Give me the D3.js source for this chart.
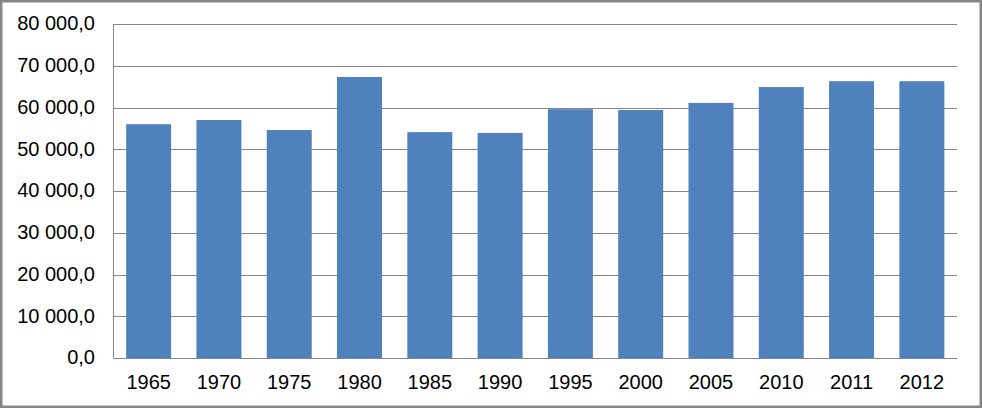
<!DOCTYPE html>
<html><head><meta charset="utf-8">
<script src="https://cdn.jsdelivr.net/npm/d3@7"></script>
<style>html,body{margin:0;padding:0;background:#fff;}svg{display:block;}</style>
</head><body>
<script>
const categories = ["1965","1970","1975","1980","1985","1990","1995","2000","2005","2010","2011","2012"];
const values = [56000, 57000, 54600, 67300, 54100, 53900, 59600, 59400, 61100, 64900, 66300, 66300];
const yTicks = [0,10000,20000,30000,40000,50000,60000,70000,80000];

(function(){
const W = 982, H = 408;
const svg = d3.select("body").append("svg").attr("width", W).attr("height", H);
svg.append("rect").attr("x",1.25).attr("y",1.25).attr("width",W-2.5).attr("height",H-2.5)
  .attr("fill","#fff").attr("stroke","#868686").attr("stroke-width",2.5);

const pL = 113.5, pR = 957, pT = 24, pB = 358;
const x = d3.scaleBand().domain(categories).range([pL, pR]).paddingInner(0.36).paddingOuter(0.18);
const y = d3.scaleLinear().domain([0, 80000]).range([pB, pT]);
const fmt = v => d3.format(",.1f")(v).replace(/,/g," ").replace(".",",");

const font = "'Liberation Sans', Arial, sans-serif";
svg.append("g").selectAll("line").data(yTicks.filter(d=>d>0)).join("line")
  .attr("x1", pL).attr("x2", pR)
  .attr("y1", d=>Math.round(y(d))+0.5).attr("y2", d=>Math.round(y(d))+0.5)
  .attr("stroke","#868686").attr("stroke-width",1);

svg.append("g").selectAll("rect").data(values).join("rect")
  .attr("x",(d,i)=>x(categories[i])).attr("width",x.bandwidth())
  .attr("y",d=>y(d)).attr("height",d=>y(0)-y(d)).attr("fill","#4F81BD");

svg.append("line").attr("x1",pL).attr("x2",pL).attr("y1",pT).attr("y2",pB)
  .attr("stroke","#868686");
svg.append("line").attr("x1",pL).attr("x2",pR).attr("y1",pB+0.5).attr("y2",pB+0.5)
  .attr("stroke","#868686");

svg.append("g").selectAll("text").data(yTicks).join("text")
  .attr("x", 95).attr("y", d=>y(d)).attr("dy","0.32em")
  .attr("text-anchor","end").attr("font-family",font).attr("font-size",20).attr("fill","#000")
  .text(fmt);

svg.append("g").selectAll("text").data(categories).join("text")
  .attr("x", d=>x(d)+x.bandwidth()/2).attr("y", 389)
  .attr("text-anchor","middle").attr("font-family",font).attr("font-size",20).attr("fill","#000")
  .text(d=>d);
})();
</script>
</body></html>
